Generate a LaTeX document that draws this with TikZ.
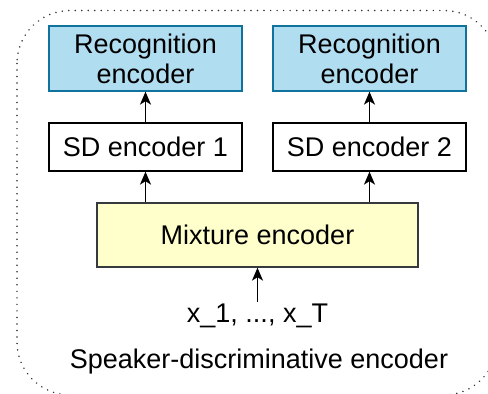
\documentclass[tikz,border=0pt]{standalone}
\usepackage{fontspec}
\setmainfont{Liberation Sans}
\usetikzlibrary{arrows.meta}
\definecolor{recfill}{HTML}{B1DDF0}
\definecolor{recline}{HTML}{10739E}
\definecolor{mixfill}{HTML}{FFFFCC}
\definecolor{mixline}{HTML}{36393D}
\begin{document}
\begin{tikzpicture}[x=1pt,y=-1pt,
  every node/.style={font=\fontsize{27}{30}\selectfont, align=center},
  block/.style={draw, line width=1.3pt, inner sep=0pt},
  recbox/.style={block, draw=recline, fill=recfill, minimum width=193pt, minimum height=65pt},
  sdbox/.style={block, draw=black, fill=white, minimum width=193pt, minimum height=48pt},
  mixbox/.style={block, draw=mixline, fill=mixfill, minimum width=321pt, minimum height=64pt},
  plain/.style={inner sep=2pt},
  link/.style={line width=1.3pt, -{Stealth[length=13pt,width=11pt,inset=3.5pt]}},
  frame/.style={line width=1.7pt, dash pattern=on 0.01pt off 6.5pt, line cap=round, rounded corners=53pt, draw=black!80}
]
\useasboundingbox (0,0) rectangle (488,394);
\begin{scope}
  \clip (0,0) rectangle (488,394);
  \draw[frame] (17,10.5) rectangle (497,395);
\end{scope}

% recognition encoders
\node[recbox] (rec1) at (145.5,58.5) {Recognition\\encoder};
\node[recbox] (rec2) at (369.5,58.5) {Recognition\\encoder};

% speaker-dependent encoders
\node[sdbox] (sd1) at (145.5,147) {SD encoder 1};
\node[sdbox] (sd2) at (369.5,147) {SD encoder 2};

% shared mixture encoder
\node[mixbox] (mix) at (257.5,235) {Mixture encoder};

% input sequence and caption
\node[plain] (inp) at (257.5,316) {x\_1, ..., x\_T};
\node[plain] (cap) at (259,362) {Speaker-discriminative encoder};

\draw[link] (sd1.north) -- (rec1.south);
\draw[link] (sd2.north) -- (rec2.south);
\draw[link] (mix.north -| sd1.south) -- (sd1.south);
\draw[link] (mix.north -| sd2.south) -- (sd2.south);
\draw[link] (inp.north) -- (mix.south);
\end{tikzpicture}
\end{document}
